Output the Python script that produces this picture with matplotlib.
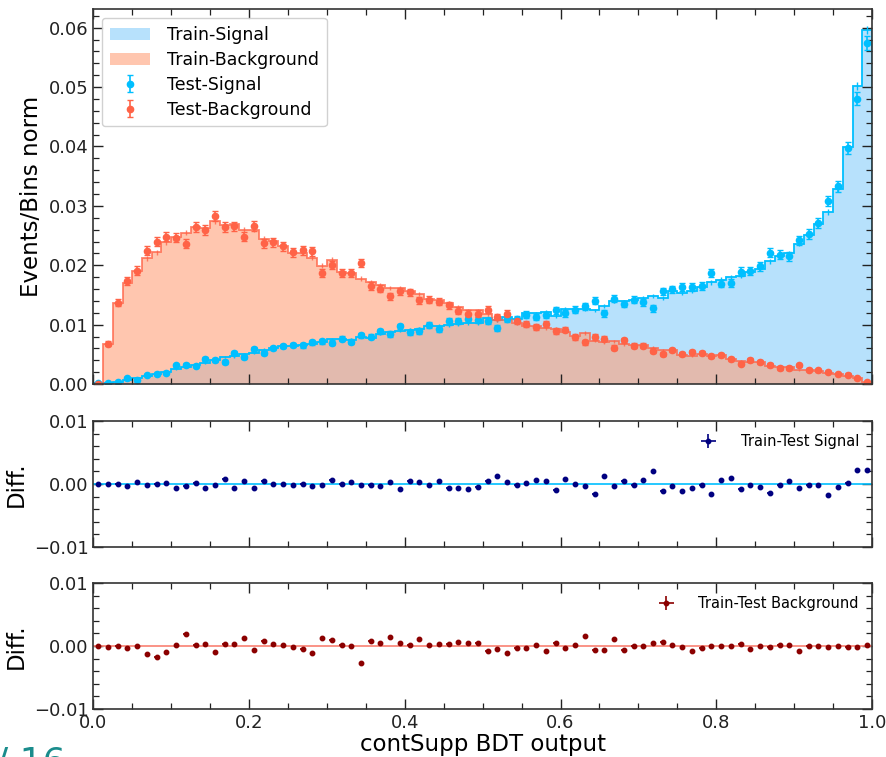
import numpy as np
import matplotlib
matplotlib.use("Agg")
import matplotlib.pyplot as plt
from matplotlib.ticker import MultipleLocator, FuncFormatter

# 80 bins on [0, 1]; values in units of 1e-3 (normalised events / bin)
n_bins = 80
edges = np.linspace(0.0, 1.0, n_bins + 1)
centers = 0.5 * (edges[:-1] + edges[1:])

sig_train = np.array([
    0.10, 0.20, 0.40, 0.70, 1.00, 1.30, 1.70, 2.10, 2.45, 2.90,
    3.25, 3.55, 4.00, 4.60, 4.65, 5.00, 5.25, 5.80, 6.10, 6.40,
    6.40, 6.50, 6.75, 7.10, 7.50, 7.60, 7.45, 8.00, 7.80, 8.50,
    8.70, 8.95, 9.10, 9.30, 9.80, 9.80, 9.95, 10.10, 10.20, 10.30,
    11.10, 10.70, 11.25, 10.90, 11.90, 11.90, 12.20, 11.50, 12.65, 12.55,
    12.70, 12.40, 13.10, 14.00, 13.90, 14.10, 14.50, 14.80, 14.50, 15.60,
    15.30, 15.70, 16.30, 17.10, 17.60, 18.05, 18.20, 18.80, 19.40, 20.70,
    21.60, 22.00, 23.60, 25.10, 26.90, 29.00, 32.80, 39.90, 50.20, 59.60,
]) * 1e-3

sig_test = np.array([
    0.10, 0.20, 0.40, 0.96, 0.74, 1.50, 1.75, 1.94, 3.15, 3.27,
    3.09, 4.25, 4.10, 3.75, 5.23, 4.52, 5.83, 5.27, 6.05, 6.40,
    6.56, 6.50, 7.05, 7.20, 6.92, 7.60, 7.08, 8.20, 8.00, 8.87,
    8.44, 9.69, 8.68, 8.98, 9.96, 9.32, 10.53, 10.68, 10.94, 10.83,
    10.68, 9.50, 10.99, 11.00, 11.70, 11.27, 11.67, 12.40, 11.91, 12.50,
    13.07, 14.04, 11.90, 14.37, 13.48, 14.20, 13.81, 12.74, 15.60, 15.92,
    16.36, 16.33, 16.46, 18.70, 16.91, 17.05, 18.94, 19.00, 19.82, 22.13,
    21.80, 21.52, 24.18, 25.26, 27.06, 30.80, 33.33, 39.74, 48.03, 57.43,
]) * 1e-3

bkg_train = np.array([
    0.00, 6.70, 13.70, 17.05, 19.10, 21.20, 22.20, 23.90, 24.80, 25.50,
    26.50, 26.20, 27.40, 26.80, 26.90, 26.00, 26.00, 24.50, 24.10, 23.30,
    22.10, 22.10, 21.30, 19.90, 20.90, 18.80, 18.70, 17.75, 17.20, 16.60,
    16.20, 16.10, 15.60, 15.20, 14.30, 14.10, 13.60, 13.00, 12.40, 12.40,
    11.80, 10.80, 10.70, 10.30, 9.80, 9.80, 9.40, 9.30, 8.80, 8.10,
    8.60, 7.30, 7.00, 7.20, 6.70, 6.50, 6.50, 6.10, 5.70, 5.80,
    4.90, 4.70, 5.00, 4.65, 4.85, 4.20, 3.80, 3.65, 3.65, 3.10,
    2.80, 2.80, 2.40, 2.35, 2.25, 1.85, 1.65, 1.40, 0.95, 0.40,
]) * 1e-3

bkg_test = np.array([
    0.00, 6.80, 13.70, 17.31, 19.10, 22.47, 23.95, 24.80, 24.64, 23.60,
    26.40, 25.90, 28.35, 26.40, 26.53, 24.80, 26.60, 23.70, 23.84, 23.20,
    22.20, 22.50, 22.36, 18.63, 20.00, 18.70, 18.70, 20.40, 16.46, 16.07,
    14.77, 15.62, 15.44, 14.10, 14.20, 13.84, 13.23, 12.37, 11.87, 11.87,
    12.54, 11.28, 11.86, 10.67, 10.17, 9.60, 10.14, 8.88, 9.17, 7.90,
    7.00, 7.93, 7.63, 6.10, 7.33, 6.45, 6.45, 5.62, 5.01, 5.70,
    5.06, 5.44, 5.26, 4.70, 4.90, 4.25, 3.43, 4.07, 3.70, 3.20,
    2.70, 2.70, 3.14, 2.40, 2.30, 2.05, 1.70, 1.60, 1.05, 0.30,
]) * 1e-3

# statistical uncertainties (Poisson-like, scale set by sample size)
TEST_ERR_SCALE = 2.5e-5
TRAIN_ERR_SCALE = 0.8e-5
DIFF_YERR = 0.00015
DIFF_XERR = 0.003

sig_test_err = np.sqrt(sig_test * TEST_ERR_SCALE)
bkg_test_err = np.sqrt(bkg_test * TEST_ERR_SCALE)
sig_train_err = np.sqrt(sig_train * TRAIN_ERR_SCALE)
bkg_train_err = np.sqrt(bkg_train * TRAIN_ERR_SCALE)

sig_diff = sig_train - sig_test
bkg_diff = bkg_train - bkg_test


def fmt_minus(ndig):
    def _f(v, pos):
        s = f"{v:.{ndig}f}"
        if float(s) == 0:
            s = s.lstrip("-")
        return s.replace("-", "\u2212")
    return FuncFormatter(_f)


def style_axis(ax, major_y, minor_y):
    ax.set_xlim(0, 1)
    ax.xaxis.set_major_locator(MultipleLocator(0.2))
    ax.xaxis.set_minor_locator(MultipleLocator(0.05))
    ax.yaxis.set_major_locator(MultipleLocator(major_y))
    ax.yaxis.set_minor_locator(MultipleLocator(minor_y))
    ax.yaxis.set_major_formatter(fmt_minus(2))
    ax.tick_params(which="both", direction="in", top=True, right=True,
                   labelsize=13, colors="#222222")
    ax.tick_params(which="major", length=7, width=1.0)
    ax.tick_params(which="minor", length=4, width=0.9)
    for s in ax.spines.values():
        s.set_linewidth(1.2)
        s.set_color("#333333")


fig = plt.figure(figsize=(8.87, 7.57), dpi=100)
ax0 = fig.add_axes([0.1052, 0.4927, 0.8779, 0.4950])
ax1 = fig.add_axes([0.1052, 0.2774, 0.8779, 0.1664])
ax2 = fig.add_axes([0.1052, 0.0634, 0.8779, 0.1664])

# ── main panel ──
ax0.stairs(sig_train, edges, fill=True, color="lightskyblue", alpha=0.6,
           label="Train-Signal")
ax0.stairs(bkg_train, edges, fill=True, color="lightsalmon", alpha=0.6,
           label="Train-Background")
ax0.stairs(sig_train, edges, color="deepskyblue", linewidth=1.3)
ax0.stairs(bkg_train, edges, color="tomato", linewidth=1.3, alpha=0.8)
ax0.errorbar(centers, sig_train, yerr=sig_train_err, fmt="none",
             ecolor="deepskyblue", elinewidth=1.0)
ax0.errorbar(centers, bkg_train, yerr=bkg_train_err, fmt="none",
             ecolor="tomato", elinewidth=1.0, alpha=0.8)
ax0.errorbar(centers, sig_test, yerr=sig_test_err, fmt="o", ms=4.5,
             color="deepskyblue", elinewidth=1.2, capsize=2.5,
             label="Test-Signal")
ax0.errorbar(centers, bkg_test, yerr=bkg_test_err, fmt="o", ms=4.5,
             color="tomato", elinewidth=1.2, capsize=2.5,
             label="Test-Background")
style_axis(ax0, 0.01, 0.002)
ax0.set_ylim(0, 0.0631)
ax0.tick_params(labelbottom=False)
ax0.set_ylabel("Events/Bins norm", fontsize=16.5)
ax0.legend(loc="upper left", fontsize=12.5, frameon=True, framealpha=0.9,
           edgecolor="#cccccc", borderpad=0.45, labelspacing=0.4,
           handlelength=2.3, handletextpad=1.0,
           bbox_to_anchor=(0.0, 1.0))

# ── diff panels ──
for ax, diff, pt_color, line_color, lab in [
    (ax1, sig_diff, "navy", "deepskyblue", "Train-Test Signal"),
    (ax2, bkg_diff, "darkred", "salmon", "Train-Test Background"),
]:
    ax.axhline(0, color=line_color, linewidth=1.2)
    ax.errorbar(centers, diff, xerr=DIFF_XERR, yerr=DIFF_YERR, fmt="o",
                ms=3.2, color=pt_color, elinewidth=1.2, label=lab)
    style_axis(ax, 0.01, 0.002)
    ax.set_ylim(-0.01, 0.01)
    ax.set_ylabel("Diff.", fontsize=16.5)
    ax.legend(loc="upper right", fontsize=10.5, frameon=False,
              handletextpad=1.2)

ax1.tick_params(labelbottom=False)
ax2.xaxis.set_major_formatter(fmt_minus(1))
ax2.set_xlabel("contSupp BDT output", fontsize=16.5, labelpad=1)

fig.align_ylabels([ax1, ax2])

# slide page number peeking in at the bottom-left corner
fig.text(-0.004, -0.02, "/ 16", color="#1a8c8c", fontsize=26,
         ha="left", va="baseline")

fig.savefig("out.png", dpi=100)
